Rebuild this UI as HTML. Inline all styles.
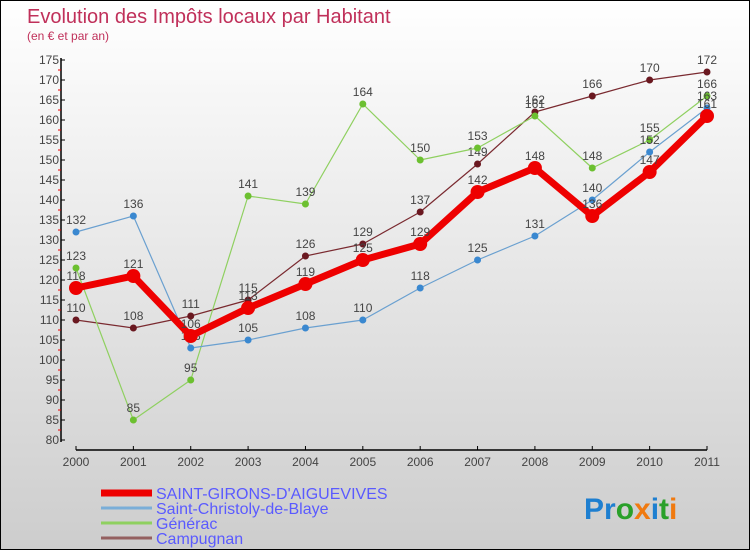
<!DOCTYPE html>
<html><head><meta charset="utf-8"><style>
body{margin:0;}
#c{position:relative;width:748px;height:548px;border:1px solid #000;background:linear-gradient(#ffffff,#cdcdcd);overflow:hidden;font-family:"Liberation Sans",sans-serif;}
</style></head><body>
<div id="c">
<svg id="s" width="748" height="548" xmlns="http://www.w3.org/2000/svg">
<text x="26" y="22" font-size="20" fill="#c0305a">Evolution des Impôts locaux par Habitant</text>
<text x="26" y="39" font-size="12" fill="#c0305a">(en € et par an)</text>
<g id="axes"></g><g id="series"></g><g id="legend"></g>
<text x="583" y="518" font-size="30" font-weight="bold"><tspan fill="#1e7fd0">Pr</tspan><tspan fill="#2aa02a">o</tspan><tspan fill="#f07a10">x</tspan><tspan fill="#1e7fd0">i</tspan><tspan fill="#2aa02a">t</tspan><tspan fill="#f07a10">i</tspan></text>
</svg></div>
<script>
const years=["2000","2001","2002","2003","2004","2005","2006","2007","2008","2009","2010","2011"];
const yTicks=[80,85,90,95,100,105,110,115,120,125,130,135,140,145,150,155,160,165,170,175];
const seriesNames=["SAINT-GIRONS-D'AIGUEVIVES","Saint-Christoly-de-Blaye","Générac","Campugnan"];
const saintGirons=[118,121,106,113,119,125,129,142,148,136,147,161];
const saintChristoly=[132,136,103,105,108,110,118,125,131,140,152,163];
const generac=[123,85,95,141,139,164,150,153,161,148,155,166];
const campugnan=[110,108,111,115,126,129,137,149,162,166,170,172];
const NS="http://www.w3.org/2000/svg";
const X=i=>75+i*(706-75)/11;
const Y=v=>439-(v-80)*4;
function mk(tag,at,parent){const e=document.createElementNS(NS,tag);for(const k in at)e.setAttribute(k,at[k]);parent.appendChild(e);return e;}
const ax=document.getElementById('axes');
let yl=mk('line',{x1:60,y1:Y(175)-2,x2:60,y2:Y(80)+2,stroke:'#000','stroke-width':1.5},ax);


let xl=mk('line',{x1:75,y1:449,x2:706,y2:449,stroke:'#000','stroke-width':1.5},ax);


yTicks.forEach(v=>{
 mk('line',{x1:60,y1:Y(v),x2:64,y2:Y(v),stroke:'#000'},ax);
 if(v<175)mk('line',{x1:57,y1:Y(v+2.5),x2:60,y2:Y(v+2.5),stroke:'#e00'},ax);
 const t=mk('text',{x:58,y:Y(v)+4,'font-size':12,'text-anchor':'end',fill:'#444'},ax);t.textContent=v;
 
 
});
years.forEach((y,i)=>{
 mk('line',{x1:X(i),y1:449,x2:X(i),y2:445,stroke:'#000'},ax);
 const t=mk('text',{x:X(i),y:465,'font-size':12,'text-anchor':'middle',fill:'#444'},ax);t.textContent=y;
 
 
});
const sg=document.getElementById('series');
const defs=[[campugnan,'#7a2a30','#6a1820',1.2,3.5,'campugnan'],[generac,'#8fd060','#6cc030',1.2,3.5,'generac'],[saintChristoly,'#6aa0d0','#3a88d0',1.2,3.5,'saint-christoly'],[saintGirons,'#ee0000','#ee0000',7,7,'saint-girons']];
defs.forEach(([d,c,dc,w,r,n])=>{
 const g=mk('g',{},sg);
 
 
 mk('polyline',{points:d.map((v,i)=>X(i)+','+Y(v)).join(' '),fill:'none',stroke:c,'stroke-width':w,'stroke-linejoin':'round'},g);
 d.forEach((v,i)=>{
  const p=mk('circle',{cx:X(i),cy:Y(v),r:r,fill:dc},g);
  
  
  const t=mk('text',{x:X(i),y:Y(v)-8,'font-size':12,'text-anchor':'middle',fill:'#444'},g);t.textContent=v;
  
  
 });
});
const lg=document.getElementById('legend');
const lc=['#ee0000','#7aaed8','#8fd060','#946060'],lw=[7,3,3,3],ly=[492,507,522,537];
seriesNames.forEach((s,i)=>{
 const g=mk('g',{},lg);
 
 
 mk('line',{x1:100,y1:ly[i],x2:151,y2:ly[i],stroke:lc[i],'stroke-width':lw[i]},g);
 const t=mk('text',{x:155,y:ly[i]+6,'font-size':16,fill:'#5a5aff'},g);t.textContent=s;
});
</script>
</body></html>
